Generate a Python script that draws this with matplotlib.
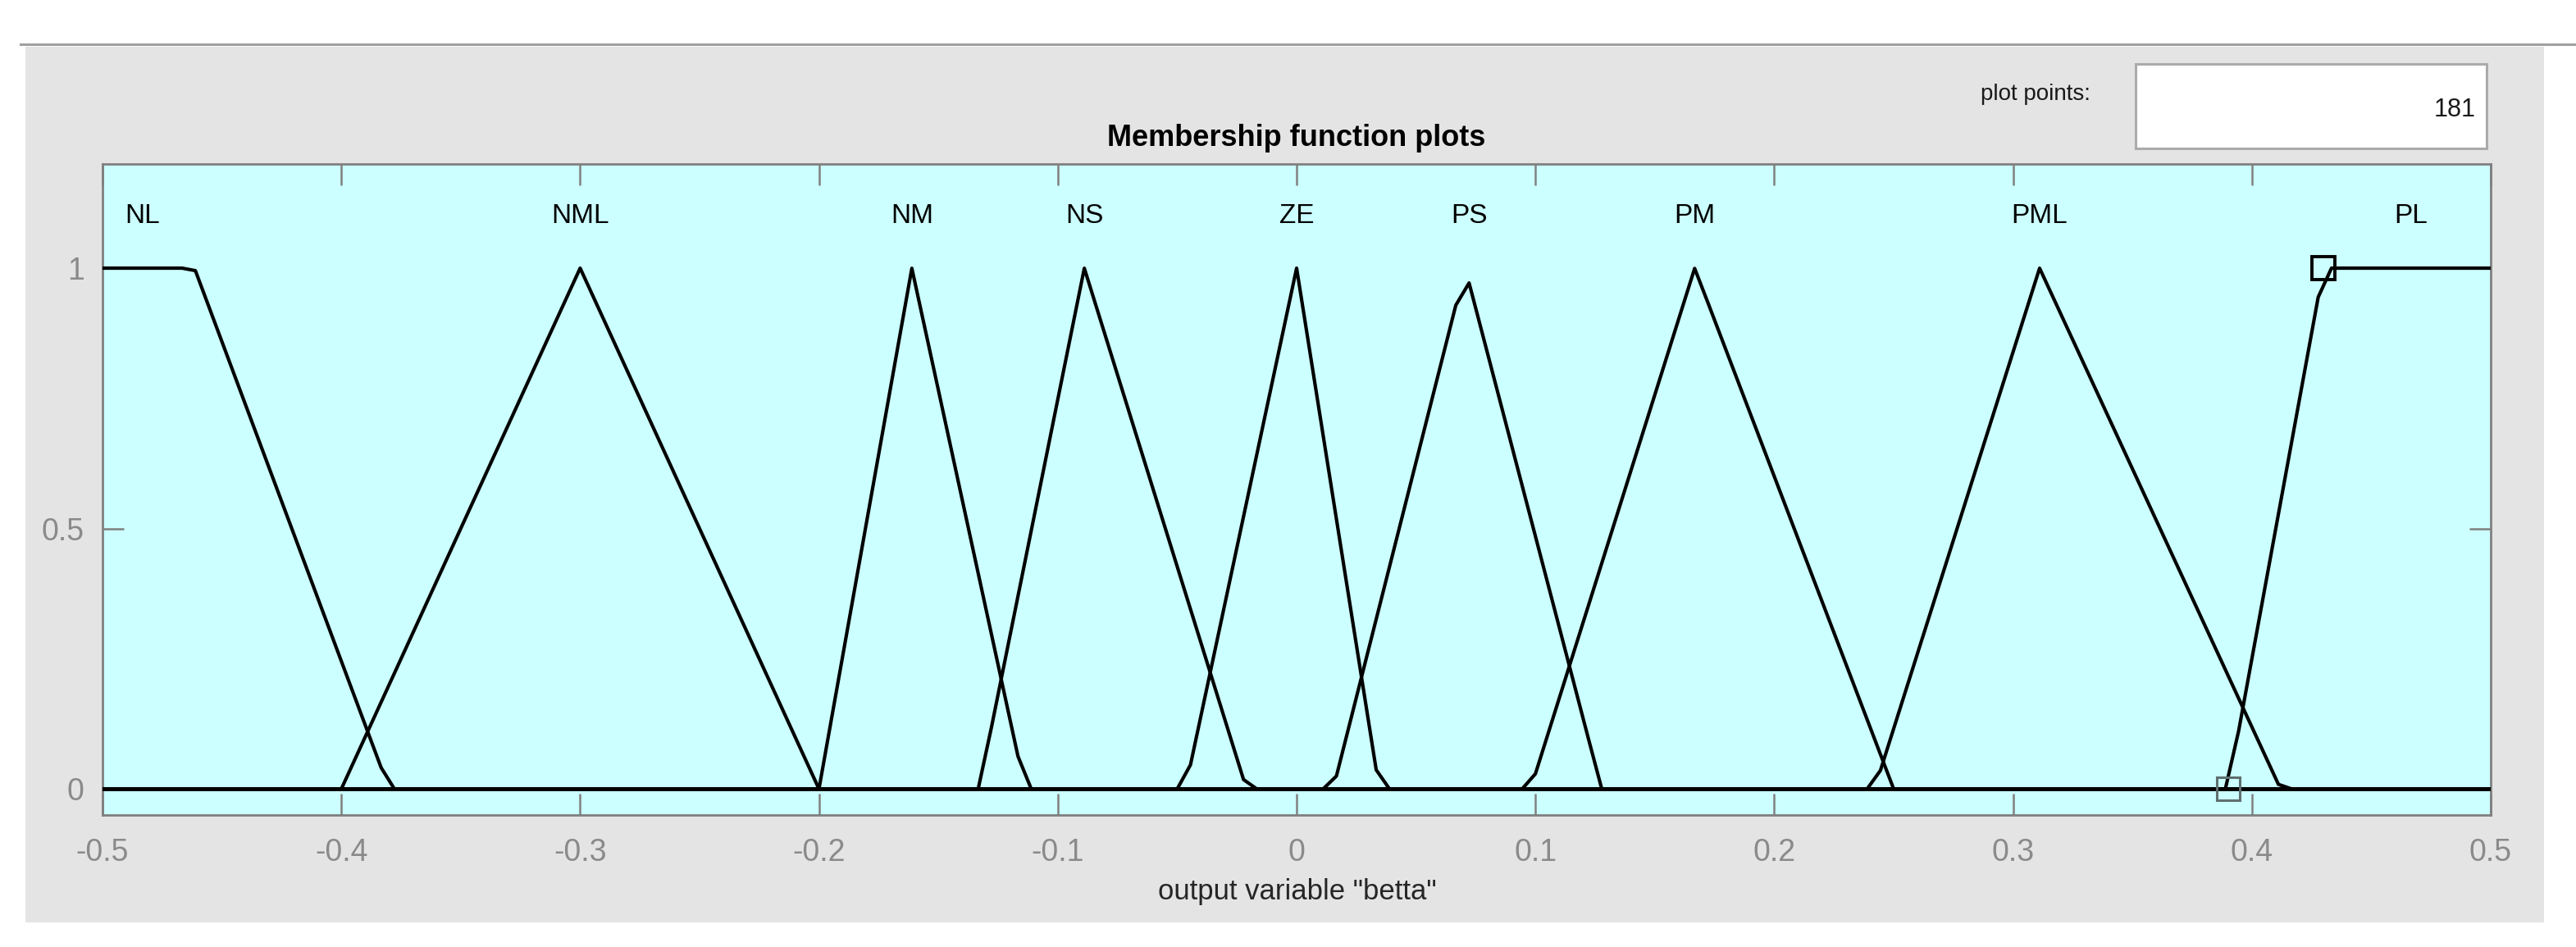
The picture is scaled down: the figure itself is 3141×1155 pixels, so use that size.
import numpy as np
import matplotlib
matplotlib.use("Agg")
import matplotlib.pyplot as plt
from matplotlib.patches import Rectangle
from matplotlib.lines import Line2D

plt.rcParams['font.family'] = ['Liberation Sans', 'DejaVu Sans']
plt.rcParams['axes.unicode_minus'] = False

# output variable "betta" - membership functions
mf_names = ['NL', 'NML', 'NM', 'NS', 'ZE', 'PS', 'PM', 'PML', 'PL']
mf_types = ['trapmf', 'trimf', 'trimf', 'trimf', 'trimf', 'trimf', 'trimf', 'trimf', 'trapmf']
mf_params = [[-0.6, -0.5, -0.4615, -0.38],
             [-0.4, -0.3, -0.2],
             [-0.2, -0.1611, -0.1137],
             [-0.133, -0.0889, -0.021],
             [-0.0466, 0.0, 0.0346],
             [0.0153, 0.0706, 0.1277],
             [0.098, 0.1667, 0.25],
             [0.242, 0.3111, 0.412],
             [0.39, 0.43, 0.5, 0.6]]
x_range = [-0.5, 0.5]
plot_points = 181
selected_mf = 'PL'

xticks = [-0.5, -0.4, -0.3, -0.2, -0.1, 0, 0.1, 0.2, 0.3, 0.4, 0.5]
xticklabels = ['-0.5', '-0.4', '-0.3', '-0.2', '-0.1', '0', '0.1', '0.2', '0.3', '0.4', '0.5']
yticks = [0, 0.5, 1]
yticklabels = ['0', '0.5', '1']


def trimf(x, p):
    a, b, c = p
    return np.maximum(np.minimum((x - a) / (b - a), (c - x) / (c - b)), 0)


def trapmf(x, p):
    a, b, c, d = p
    return np.maximum(np.minimum(np.minimum((x - a) / (b - a), 1), (d - x) / (d - c)), 0)


W, H = 3141, 1155
fig = plt.figure(figsize=(W / 100, H / 100), dpi=100)
fig.patch.set_facecolor('white')

# gray panel + line on top (the fuzzy gui background)
fig.patches.append(Rectangle((31 / W, 1 - 1125 / H), (3102 - 31) / W, (1125 - 57) / H,
                             transform=fig.transFigure, facecolor='#e4e4e4',
                             edgecolor='none', zorder=-10))
fig.lines.append(Line2D([25 / W, 1], [1 - 53.5 / H, 1 - 53.5 / H], transform=fig.transFigure,
                        color='#a0a0a0', lw=2.2, zorder=-9))

# plot points box
fig.patches.append(Rectangle((2604 / W, 1 - 181 / H), 428 / W, 103 / H,
                             transform=fig.transFigure, facecolor='white',
                             edgecolor='#ababab', lw=2.2, zorder=2))
fig.text(2549 / W, 1 - 115 / H, 'plot points:', ha='right', va='center', fontsize=20, color='#1a1a1a')
fig.text(3019 / W, 1 - 134 / H, str(plot_points), ha='right', va='center', fontsize=22, color='#1a1a1a')

ax = fig.add_axes([125 / W, 1 - 994 / H, 2912 / W, 794 / H])
ax.set_zorder(1)
ax.set_facecolor('#ccffff')

x = np.linspace(x_range[0], x_range[1], plot_points)
for name, typ, p in zip(mf_names, mf_types, mf_params):
    if typ == 'trimf':
        y = trimf(x, p)
    else:
        y = trapmf(x, p)
    ax.plot(x, y, color='black', lw=3.0, zorder=3)
    top = x[np.isclose(y, y.max())]
    ax.text(top.mean(), 1.1, name, ha='center', va='center', fontsize=24, color='black')
    if name == selected_mf:
        px = [v for v in p if x_range[0] <= v <= x_range[1]]
        py = [0 if typ == 'trapmf' and i == 0 else 1 for i in range(len(px))]
        ax.plot(px[:1], py[:1], 's', ms=20, mfc='none', mec='#5f6f6f', mew=2.2, zorder=4)
        ax.plot(px[1:2], py[1:2], 's', ms=20, mfc='none', mec='black', mew=2.8, zorder=4)

ax.set_xlim(x_range)
ax.set_ylim(-0.05, 1.2)
ax.set_xticks(xticks)
ax.set_xticklabels(xticklabels)
ax.set_yticks(yticks)
ax.set_yticklabels(yticklabels)
ax.tick_params(direction='in', length=19, width=1.8, color='#808080',
               top=True, right=True, labelsize=27, labelcolor='#8a8a8a')
ax.tick_params(axis='x', pad=20)
ax.tick_params(axis='y', pad=16)
for s in ax.spines.values():
    s.set_color('#808080')
    s.set_linewidth(2.0)

fig.text(1581 / W, 1 - 169 / H, 'Membership function plots', ha='center', va='center',
         fontsize=26, fontweight='bold', color='black')
fig.text(1582 / W, 1 - 1088 / H, 'output variable "betta"', ha='center', va='center',
         fontsize=25, color='#262626')

fig.savefig('out.png', dpi=100)
